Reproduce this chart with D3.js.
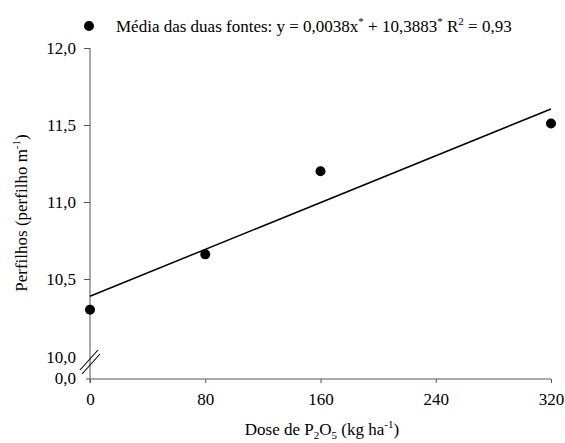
<!DOCTYPE html>
<html><head><meta charset="utf-8">
<script src="https://cdn.jsdelivr.net/npm/d3@7"></script>
</head><body style="margin:0">
<svg id="c" width="565" height="443" style="display:block"></svg>
<script>
const doses = [0, 80, 160, 320];
const perfilhos = [10.30, 10.66, 11.20, 11.51];
const xTicks = [0, 80, 160, 240, 320];
const yTicks = [10.5, 11.0, 11.5, 12.0];
const slope = 0.0038, intercept = 10.3883;
const legendText = "Média das duas fontes: y = 0,0038x";

const svg = d3.select("#c");
const x = d3.scaleLinear().domain([0, 320]).range([90, 551]);
const y = d3.scaleLinear().domain([10, 12]).range([356, 48]);
const axisY0 = 379;
const fmt = v => d3.format(".1f")(v).replace(".", ",");

// x axis
const gx = svg.append("g").attr("transform", `translate(0,${axisY0})`)
  .call(d3.axisBottom(x).tickValues(xTicks).tickSize(4).tickPadding(10).tickSizeOuter(0));
gx.attr("font-family", null).attr("font-size", null);
gx.select(".domain").attr("d", `M86,0H${x(320)}`);
gx.selectAll("line,path").attr("stroke", "#555");

// y axis
const gy = svg.append("g").attr("transform", `translate(90,0)`)
  .call(d3.axisLeft(y).tickValues(yTicks).tickFormat(fmt).tickSize(6).tickPadding(8).tickSizeOuter(0));
gy.attr("font-family", null).attr("font-size", null);
gy.select(".domain").attr("d", `M0,${y(12)}V${axisY0 + 4}`);
gy.selectAll("line,path").attr("stroke", "#555");
// extra labels 10,0 and 0,0
svg.append("text").attr("x", 76).attr("y", y(10) + 2).attr("dy", "0.32em").attr("text-anchor", "end").text(fmt(10));
svg.append("text").attr("x", 76).attr("y", axisY0).attr("dy", "0.32em").attr("text-anchor", "end").text(fmt(0));
// break marks
[[80, 370, 98, 350], [82, 374, 100, 354]].forEach(l => {
  svg.append("line").attr("x1", l[0]).attr("y1", l[1]).attr("x2", l[2]).attr("y2", l[3])
    .attr("stroke", "#000").attr("stroke-width", 1.1);
});

// regression line
svg.append("line")
  .attr("x1", x(0)).attr("y1", y(intercept))
  .attr("x2", x(320)).attr("y2", y(intercept + slope * 320))
  .attr("stroke", "#000").attr("stroke-width", 1.5);

// points
svg.selectAll("circle.pt").data(doses).join("circle").attr("class", "pt")
  .attr("cx", d => x(d)).attr("cy", (d, i) => y(perfilhos[i])).attr("r", 5).attr("fill", "#000");

// legend
svg.append("circle").attr("cx", 89).attr("cy", 26).attr("r", 5).attr("fill", "#000");
const lt = svg.append("text").attr("x", 116).attr("y", 32);
lt.append("tspan").text(legendText);
lt.append("tspan").attr("dy", -7).attr("class", "sm").text("*");
lt.append("tspan").attr("dy", 7).text(" + 10,3883");
lt.append("tspan").attr("dy", -7).attr("class", "sm").text("*");
lt.append("tspan").attr("dy", 7).text(" R");
lt.append("tspan").attr("dy", -7).attr("class", "sm").text("2");
lt.append("tspan").attr("dy", 7).text(" = 0,93");

// y title
const yt = svg.append("text").attr("transform", "translate(27,213) rotate(-90)").attr("text-anchor", "middle");
yt.append("tspan").text("Perfilhos (perfilho m");
yt.append("tspan").attr("dy", -7).attr("class", "sm").text("-1");
yt.append("tspan").attr("dy", 7).text(")");

// x title
const xt = svg.append("text").attr("x", 322).attr("y", 435).attr("text-anchor", "middle");
xt.append("tspan").text("Dose de P");
xt.append("tspan").attr("dy", 4).attr("class", "sm").text("2");
xt.append("tspan").attr("dy", -4).text("O");
xt.append("tspan").attr("dy", 4).attr("class", "sm").text("5");
xt.append("tspan").attr("dy", -4).text(" (kg ha");
xt.append("tspan").attr("dy", -7).attr("class", "sm").text("-1");
xt.append("tspan").attr("dy", 7).text(")");

svg.selectAll("text").style("font-family", `"Liberation Serif"`).attr("font-size", 17).attr("fill", "#000");
svg.selectAll("tspan.sm").attr("font-size", 11);
</script>
</body></html>
